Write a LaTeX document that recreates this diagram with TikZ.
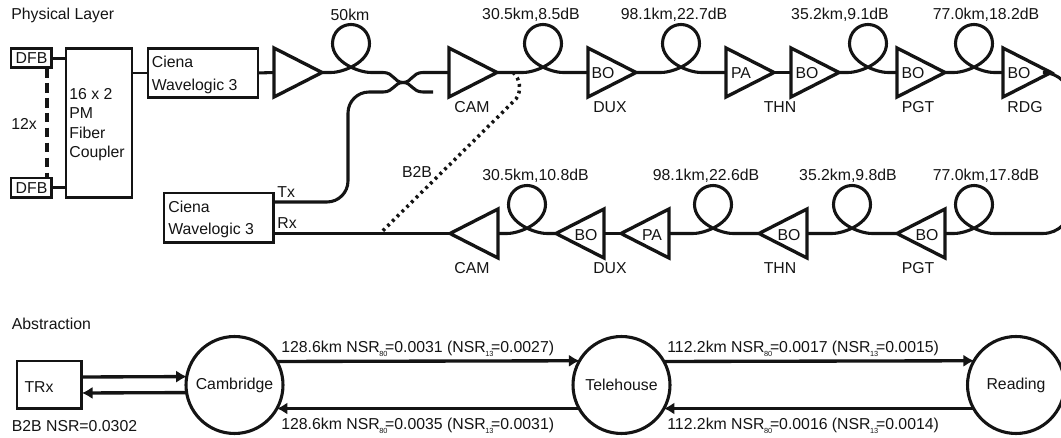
\documentclass[tikz,border=0pt]{standalone}
\usepackage{xcolor}
\usepackage{fontspec}
\setmainfont{Liberation Sans}
\usetikzlibrary{shapes.geometric, arrows.meta, positioning, calc}
\definecolor{inkblack}{RGB}{20, 20, 20}
\tikzset{
    lbl/.style={inner sep=0pt, text=inkblack, font=\fontsize{9}{11}\selectfont},
    fiber/.style={draw=inkblack, line width=1.75pt},
    thinfiber/.style={draw=inkblack, line width=1.3pt},
    boxnode/.style={draw=inkblack, line width=1.7pt, anchor=north west, outer sep=0pt},
    ampnode/.style={isosceles triangle, isosceles triangle stretches, draw=inkblack, line width=1.9pt,
        minimum width=0.98cm, minimum height=0.96cm, inner sep=0pt, outer sep=0pt, anchor=lower side},
    ampleft/.style={ampnode, shape border rotate=180},
    sitenode/.style={circle, draw=inkblack, line width=1.75pt, minimum size=1.94cm, inner sep=0pt, outer sep=0pt,
        text=inkblack, font=\fontsize{9}{11}\selectfont},
    linkarrow/.style={draw=inkblack, line width=1.9pt, -{Latex[length=6pt,width=7pt]}}
}
\newcommand{\fiberlink}[3]{%
    \draw[fiber] (#1) -- ($(#2)+(-20,0)$)
        .. controls ($(#2)+(-8,0)$) and ($(#2)+(18.5,-10)$) .. ($(#2)+(18.5,-29)$)
        .. controls ($(#2)+(18.5,-40)$) and ($(#2)+(10,-48)$) .. ($(#2)+(0,-48)$)
        .. controls ($(#2)+(-10,-48)$) and ($(#2)+(-18.5,-40)$) .. ($(#2)+(-18.5,-29)$)
        .. controls ($(#2)+(-18.5,-10)$) and ($(#2)+(8,0)$) .. ($(#2)+(20,0)$) -- (#3);}
\newcommand{\nsr}[1]{NSR\kern-0.3pt\raisebox{-2pt}{\fontsize{4.2}{4.2}\selectfont #1}\kern-1.3pt}
\begin{document}
\begin{tikzpicture}[x=0.02cm, y=-0.02cm]
    \useasboundingbox (0,0) rectangle (1061,438);
    \clip (0,0) rectangle (1061,438);

    % physical layer, transmit side
    \node[lbl, anchor=west] (physlabel) at (11,15) {Physical Layer};
    \node[boxnode, minimum width=0.82cm, minimum height=0.39cm, lbl, draw=inkblack, inner sep=0pt] (dfbA) at (11,48.5) {DFB};
    \node[boxnode, minimum width=0.82cm, minimum height=0.39cm, lbl, draw=inkblack, inner sep=0pt] (dfbB) at (11,178) {DFB};
    \node[boxnode, minimum width=1.32cm, minimum height=2.98cm, line width=1.4pt, inner sep=0pt] (coupler) at (66,48.5) {};
    \node[lbl, anchor=west, align=left, font=\fontsize{9}{11}\selectfont] (couplertext) at (69,124.5) {16 x 2\\PM\\Fiber\\Coupler};
    \node[boxnode, minimum width=2.2cm, minimum height=0.98cm, line width=1.6pt] (cienaA) at (148,48.5) {};
    \node[lbl, anchor=west, align=left, font=\fontsize{9}{13}\selectfont] (cienaAtext) at (151.5,75) {Ciena\\Wavelogic 3};
    \node[boxnode, minimum width=2.2cm, minimum height=1cm] (cienaB) at (164,193) {};
    \node[lbl, anchor=west, align=left, font=\fontsize{9}{12.8}\selectfont] (cienaBtext) at (168,219.5) {Ciena\\Wavelogic 3};
    \node[lbl] (twelve) at (24,124) {12x};
    \node[lbl, anchor=west] (txlabel) at (277,192) {Tx};
    \node[lbl, anchor=west] (rxlabel) at (277,223) {Rx};
    \node[lbl] (b2blabel) at (417,172) {B2B};

    \draw[fiber, line width=2pt, dash pattern=on 5.5pt off 3pt] (dfbA.south -| 47,0) -- (dfbB.north -| 47,0);
    \draw[fiber] (dfbA.east) -- (coupler.west |- dfbA.east);
    \draw[fiber] (dfbB.east) -- (coupler.west |- dfbB.east);
    \draw[thinfiber] (coupler.east |- cienaA.west) -- (cienaA.west);

    % amplifiers going out
    \node[ampnode] (boost) at (274,72.5) {};
    \node[ampnode] (camA) at (449,72.5) {};
    \node[ampnode] (duxA) at (588,72.5) {};
    \node[ampnode] (paA) at (726,72.5) {};
    \node[ampnode] (thnA) at (791,72.5) {};
    \node[ampnode] (pgtA) at (897,72.5) {};
    \node[ampnode] (rdgA) at (1003,72.5) {};
    % amplifiers coming back
    \node[ampleft] (camB) at (498,233.5) {};
    \node[ampleft] (duxB) at (604,233.5) {};
    \node[ampleft] (paB) at (669,233.5) {};
    \node[ampleft] (thnB) at (807,233.5) {};
    \node[ampleft] (pgtB) at (945,233.5) {};

    \foreach \ampname/\ampx/\amptext in {duxA/603/BO, paA/741/PA, thnA/807/BO, pgtA/913/BO, rdgA/1019/BO}
        \node[lbl] (\ampname text) at (\ampx,73) {\amptext};
    \foreach \ampname/\ampx/\amptext in {duxB/586/BO, paB/652/PA, thnB/789/BO, pgtB/927/BO}
        \node[lbl] (\ampname text) at (\ampx,235) {\amptext};

    % sites under the amplifiers
    \foreach \sitename/\sitex/\sitey/\sitetext in {siteA/472/107.5/CAM, siteB/610/107.5/DUX, siteC/780/107.5/THN, siteD/918/107.5/PGT, siteE/1025/107.5/RDG,
        siteF/472/268/CAM, siteG/610/268/DUX, siteH/780/268/THN, siteI/918/268/PGT}
        \node[lbl] (\sitename) at (\sitex,\sitey) {\sitetext};

    % span labels
    \foreach \spanname/\spanx/\spany/\spantext in {spanA/350/15/50km, spanB/531/15/{30.5km,8.5dB}, spanC/674/15/{98.1km,22.7dB}, spanD/840/15/{35.2km,9.1dB}, spanE/986/15/{77.0km,18.2dB},
        spanF/535.5/176/{30.5km,10.8dB}, spanG/706/176/{98.1km,22.6dB}, spanH/848/176/{35.2km,9.8dB}, spanI/986/176/{77.0km,17.8dB}}
        \node[lbl] (\spanname) at (\spanx,\spany) {\spantext};

    \coordinate (loopA) at (351,72.5);
    \coordinate (loopB) at (543,72.5);
    \coordinate (loopC) at (681,72.5);
    \coordinate (loopD) at (868,72.5);
    \coordinate (loopE) at (974,72.5);
    \coordinate (loopF) at (527,233.5);
    \coordinate (loopG) at (713,233.5);
    \coordinate (loopH) at (852,233.5);
    \coordinate (loopI) at (974,233.5);
    \coordinate (splitIn) at (383,72.5);
    \coordinate (splitOut) at (433,92);
    \coordinate (splitLow) at (383,92);
    \coordinate (splitMid) at (403,82.5);
    \coordinate (turnB) at (1005,233.5);
    \coordinate (b2bTop) at (513,72.5);
    \coordinate (b2bEnd) at (380,233.5);

    \draw[fiber] (cienaA.east) -- (boost.lower side);
    \fiberlink{boost.apex}{loopA}{splitIn}
    \draw[fiber] (splitIn) .. controls (394,72.5) and (394,82.5) .. (splitMid) .. controls (412,82.5) and (412,92) .. (423,92) -- (splitOut);
    \draw[fiber, rounded corners=12] ($(cienaB.east)+(0,-16)$) -- (348,202) -- (348,92) -- (splitLow);
    \draw[fiber] (splitLow) .. controls (394,92) and (394,82.5) .. (splitMid) .. controls (412,82.5) and (412,72.5) .. (423,72.5) -- (camA.lower side);
    \fiberlink{camA.apex}{loopB}{duxA.lower side}
    \fiberlink{duxA.apex}{loopC}{paA.lower side}
    \draw[fiber] (paA.apex) -- (thnA.lower side);
    \fiberlink{thnA.apex}{loopD}{pgtA.lower side}
    \fiberlink{pgtA.apex}{loopE}{rdgA.lower side}
    \draw[fiber, rounded corners=16] (rdgA.apex) -- (1071,72.5) -- (1071,233.5) -- (turnB);
    \fiberlink{pgtB.lower side}{loopI}{turnB}
    \fiberlink{thnB.lower side}{loopH}{pgtB.apex}
    \draw[fiber] (duxB.lower side) -- (paB.apex);
    \fiberlink{paB.lower side}{loopG}{thnB.apex}
    \fiberlink{camB.lower side}{loopF}{duxB.apex}
    \draw[fiber] (camB.apex) -- (cienaB.east |- camB.apex);
    \draw[draw=inkblack, line width=2pt, dash pattern=on 1.6pt off 2.2pt]
        (b2bTop) .. controls (520,78) and (522,91) .. (516,99) -- (b2bEnd);

    % abstraction
    \node[lbl, anchor=west] (abstractlabel) at (11.5,324) {Abstraction};
    \node[boxnode, minimum width=1.3cm, minimum height=0.96cm] (trx) at (17,361) {};
    \node[lbl] (trxtext) at (39,387) {TRx};
    \node[lbl, anchor=west] (b2bnsr) at (11.5,426) {B2B NSR=0.0302};
    \node[sitenode] (cambridge) at (234.5,385) {Cambridge};
    \node[sitenode] (telehouse) at (621.5,385) {Telehouse};
    \node[sitenode] (reading) at (1016,385) {Reading};

    \draw[linkarrow] ($(trx.east)+(0,-8)$) -- (cambridge.170.6);
    \draw[linkarrow] (cambridge.189.4) -- ($(trx.east)+(0,8)$);
    \draw[linkarrow] (cambridge.29.3) -- (telehouse.150.7);
    \draw[linkarrow] (telehouse.209.3) -- (cambridge.-29.3);
    \draw[linkarrow] (telehouse.29.3) -- (reading.150.7);
    \draw[linkarrow] (reading.209.3) -- (telehouse.-29.3);

    \node[lbl, anchor=west] (linkA) at (281,349) {128.6km \nsr{80}=0.0031 (\nsr{13}=0.0027)};
    \node[lbl, anchor=west] (linkB) at (281,426) {128.6km \nsr{80}=0.0035 (\nsr{13}=0.0031)};
    \node[lbl, anchor=west] (linkC) at (667,349) {112.2km \nsr{80}=0.0017 (\nsr{13}=0.0015)};
    \node[lbl, anchor=west] (linkD) at (667,426) {112.2km \nsr{80}=0.0016 (\nsr{13}=0.0014)};
\end{tikzpicture}
\end{document}
